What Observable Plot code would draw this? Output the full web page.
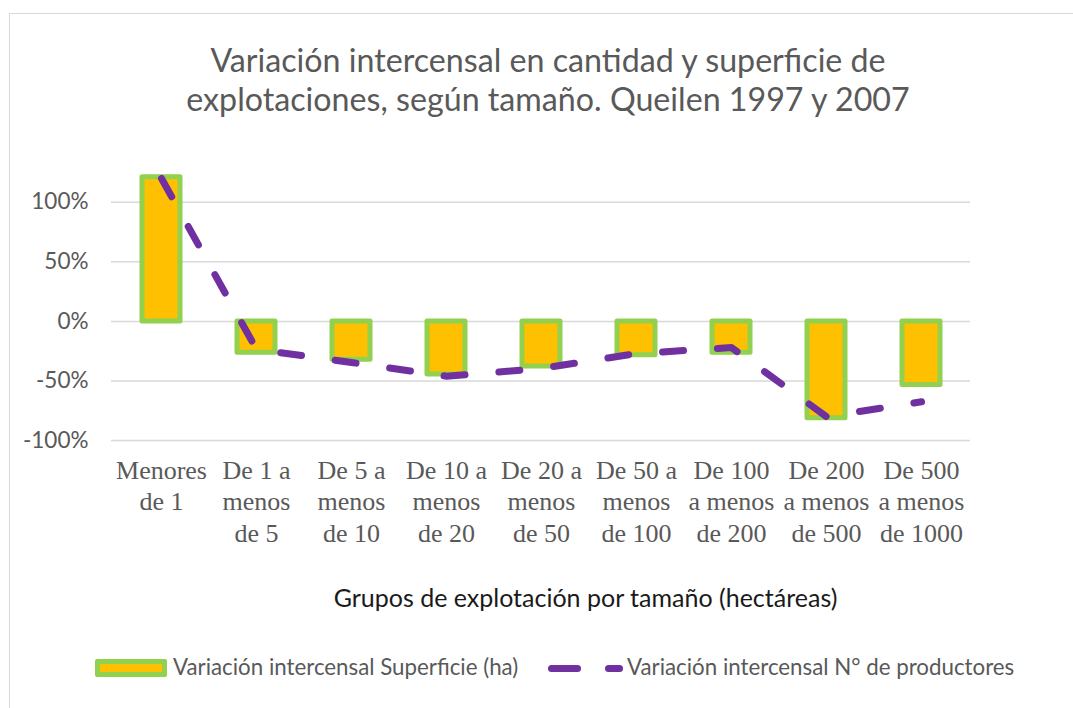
<!DOCTYPE html>
<html><head><meta charset="utf-8">
<script src="https://cdn.jsdelivr.net/npm/d3@7"></script>
<script src="https://cdn.jsdelivr.net/npm/@observablehq/plot@0.6"></script>
<style>
body{margin:0;background:#fff;font-family:Lato,"Open Sans",sans-serif;overflow:hidden;}
#frame{position:absolute;left:9px;top:13px;width:1100px;height:720px;border:1.5px solid #d9d9d9;box-sizing:border-box;}
#title{position:absolute;left:0;width:1096px;top:41px;text-align:center;font-size:32.2px;line-height:38.5px;color:#595959;}
#chart{position:absolute;left:0;top:140px;}
#xtitle{position:absolute;left:0;width:1171px;top:582px;text-align:center;font-size:25px;color:#1a1a1a;}
.leg{position:absolute;font-size:22.3px;color:#595959;top:654px;line-height:26px;white-space:nowrap;}
#sw1{position:absolute;left:95px;top:659px;width:72px;height:18px;background:#FFC000;border:5px solid #92D050;box-sizing:border-box;border-radius:2px;}
.pd{position:absolute;height:7px;top:665px;background:#7030A0;border-radius:4px;}
</style></head>
<body>
<div id="frame"></div>
<div id="title">Variación intercensal en cantidad y superficie de<br>explotaciones, según tamaño. Queilen 1997 y 2007</div>
<div id="chart"></div>
<div id="xtitle">Grupos de explotación por tamaño (hectáreas)</div>
<div id="sw1"></div>
<div class="leg" style="left:173px">Variación intercensal Superficie (ha)</div>
<div class="pd" style="left:548px;width:33px"></div>
<div class="pd" style="left:605px;width:18px"></div>
<div class="leg" style="left:627px">Variación intercensal N° de productores</div>
<script>
const categories = [
  "Menores\nde 1",
  "De 1 a\nmenos\nde 5",
  "De 5 a\nmenos\nde 10",
  "De 10 a\nmenos\nde 20",
  "De 20 a\nmenos\nde 50",
  "De 50 a\nmenos\nde 100",
  "De 100\na menos\nde 200",
  "De 200\na menos\nde 500",
  "De 500\na menos\nde 1000"
];
const superficie = [121, -26.4, -32.3, -44.5, -37.8, -28.5, -26.4, -81.4, -53.3];
const productores = [120, -23.5, -34.5, -46, -39.5, -27, -22, -80, -67.5];
const yTicks = [-100, -50, 0, 50, 100];

const data = categories.map((c, i) => ({c, s: superficie[i], p: productores[i]}));

const plot = Plot.plot({
  width: 1073, height: 480,
  marginLeft: 111, marginRight: 103, marginTop: 32, marginBottom: 180,
  x: {domain: categories, paddingInner: 0.6, paddingOuter: 0.3, label: null},
  y: {domain: [-100, 125], label: null},
  style: {background: "transparent", overflow: "visible"},
  marks: [
    Plot.gridY(yTicks, {stroke: "#d9d9d9", strokeOpacity: 1, strokeWidth: 1.5}),
    Plot.axisY(yTicks, {tickSize: 0, tickPadding: 23, tickFormat: d => d + "%", fontSize: 22.5, fill: "#595959", fontFamily: "Lato", label: null}),
    Plot.axisX({tickSize: 0, tickPadding: 16, fontSize: 26, fontFamily: "Liberation Serif", fill: "#595959", lineHeight: 1.21, label: null}),
    Plot.barY(data, {x: "c", y: "s", fill: "#FFC000", stroke: "#92D050", strokeWidth: 5, strokeLinejoin: "round"}),
    Plot.lineY(data, {x: "c", y: "p", stroke: "#7030A0", strokeWidth: 7, strokeDasharray: "21,34", strokeLinecap: "round"})
  ]
});
document.getElementById("chart").appendChild(plot);
</script>
</body></html>
